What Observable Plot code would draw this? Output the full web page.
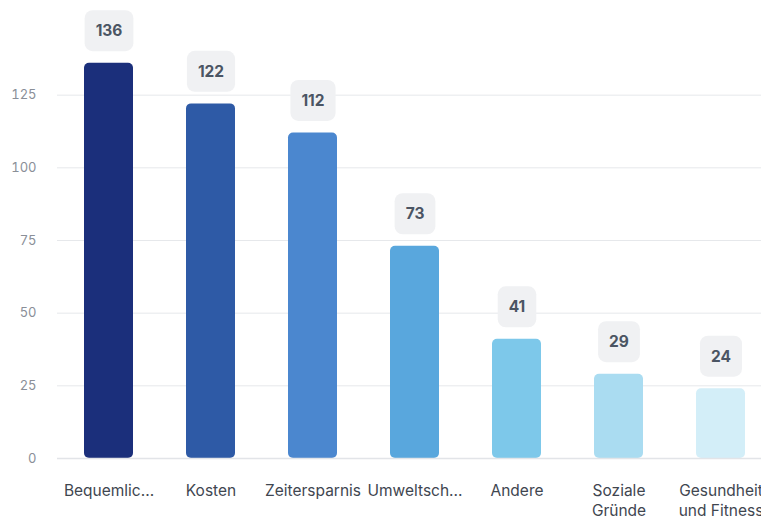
<!DOCTYPE html>
<html>
<head>
<meta charset="utf-8">
<script src="https://cdn.jsdelivr.net/npm/d3@7"></script>
<script src="https://cdn.jsdelivr.net/npm/@observablehq/plot@0.6"></script>
<style>
  html, body { margin: 0; padding: 0; background: #fff; overflow: hidden; }
  #chart { width: 761px; height: 517px; overflow: hidden; }
  #chart svg { max-width: none !important; font-family: Inter, "Noto Sans", sans-serif; }
</style>
</head>
<body>
<div id="chart"></div>
<script>
const categories = ["Bequemlic...", "Kosten", "Zeitersparnis", "Umweltsch...", "Andere", "Soziale\nGründe", "Gesundheit\nund Fitness"];
const values = [136, 122, 112, 73, 41, 29, 24];
const colors = ["#1b2f7b", "#2e5aa6", "#4b87cf", "#59a7dd", "#7dc8ea", "#aadcf1", "#d3eef8"];
const yTicks = [0, 25, 50, 75, 100, 125];

const data = categories.map((c, i) => ({category: c, value: values[i], color: colors[i]}));

const chart = Plot.plot({
  width: 772,
  height: 517,
  marginLeft: 57,
  marginRight: 1,
  marginTop: 22,
  marginBottom: 59,
  style: {fontFamily: "Inter, 'Noto Sans', sans-serif", background: "#fff", maxWidth: "none", overflow: "visible"},
  x: {domain: categories, paddingInner: 0.52, paddingOuter: 0.26, label: null},
  y: {domain: [0, 150], label: null},
  marks: [
    Plot.gridY(yTicks, {stroke: "#e6e8eb", strokeOpacity: 1}),
    Plot.barY(data, {x: "category", y: "value", fill: "color", rx: 5}),
    Plot.ruleY([0], {stroke: "#e2e4e8", strokeWidth: 1.5}),
    Plot.text(data, {x: "category", y: "value", text: d => String(d.value), dy: -32, fontSize: 15.5, fontWeight: 700, fill: "#4b5563"}),
    Plot.axisY(yTicks, {tickSize: 0, tickPadding: 21, fontSize: 13, fill: "#8a8f98", label: null}),
    Plot.axisX({tickSize: 0, tickPadding: 23, fontSize: 15.5, fill: "#3f4650", lineHeight: 1.3, label: null})
  ]
});

document.getElementById("chart").appendChild(chart);

// rounded label boxes behind value labels
const textGroup = chart.querySelector('g[aria-label="text"]');
if (textGroup) {
  textGroup.querySelectorAll("text").forEach(t => {
    const b = t.getBBox();
    const padX = 11, h = 41;
    const cy = b.y + b.height / 2;
    const rect = document.createElementNS("http://www.w3.org/2000/svg", "rect");
    rect.setAttribute("x", b.x - padX);
    rect.setAttribute("y", cy - h / 2);
    rect.setAttribute("width", b.width + 2 * padX);
    rect.setAttribute("height", h);
    rect.setAttribute("rx", 8);
    rect.setAttribute("fill", "#f0f1f3");
    const tr = t.getAttribute("transform");
    if (tr) rect.setAttribute("transform", tr);
    t.parentNode.insertBefore(rect, t);
  });
}
</script>
</body>
</html>
